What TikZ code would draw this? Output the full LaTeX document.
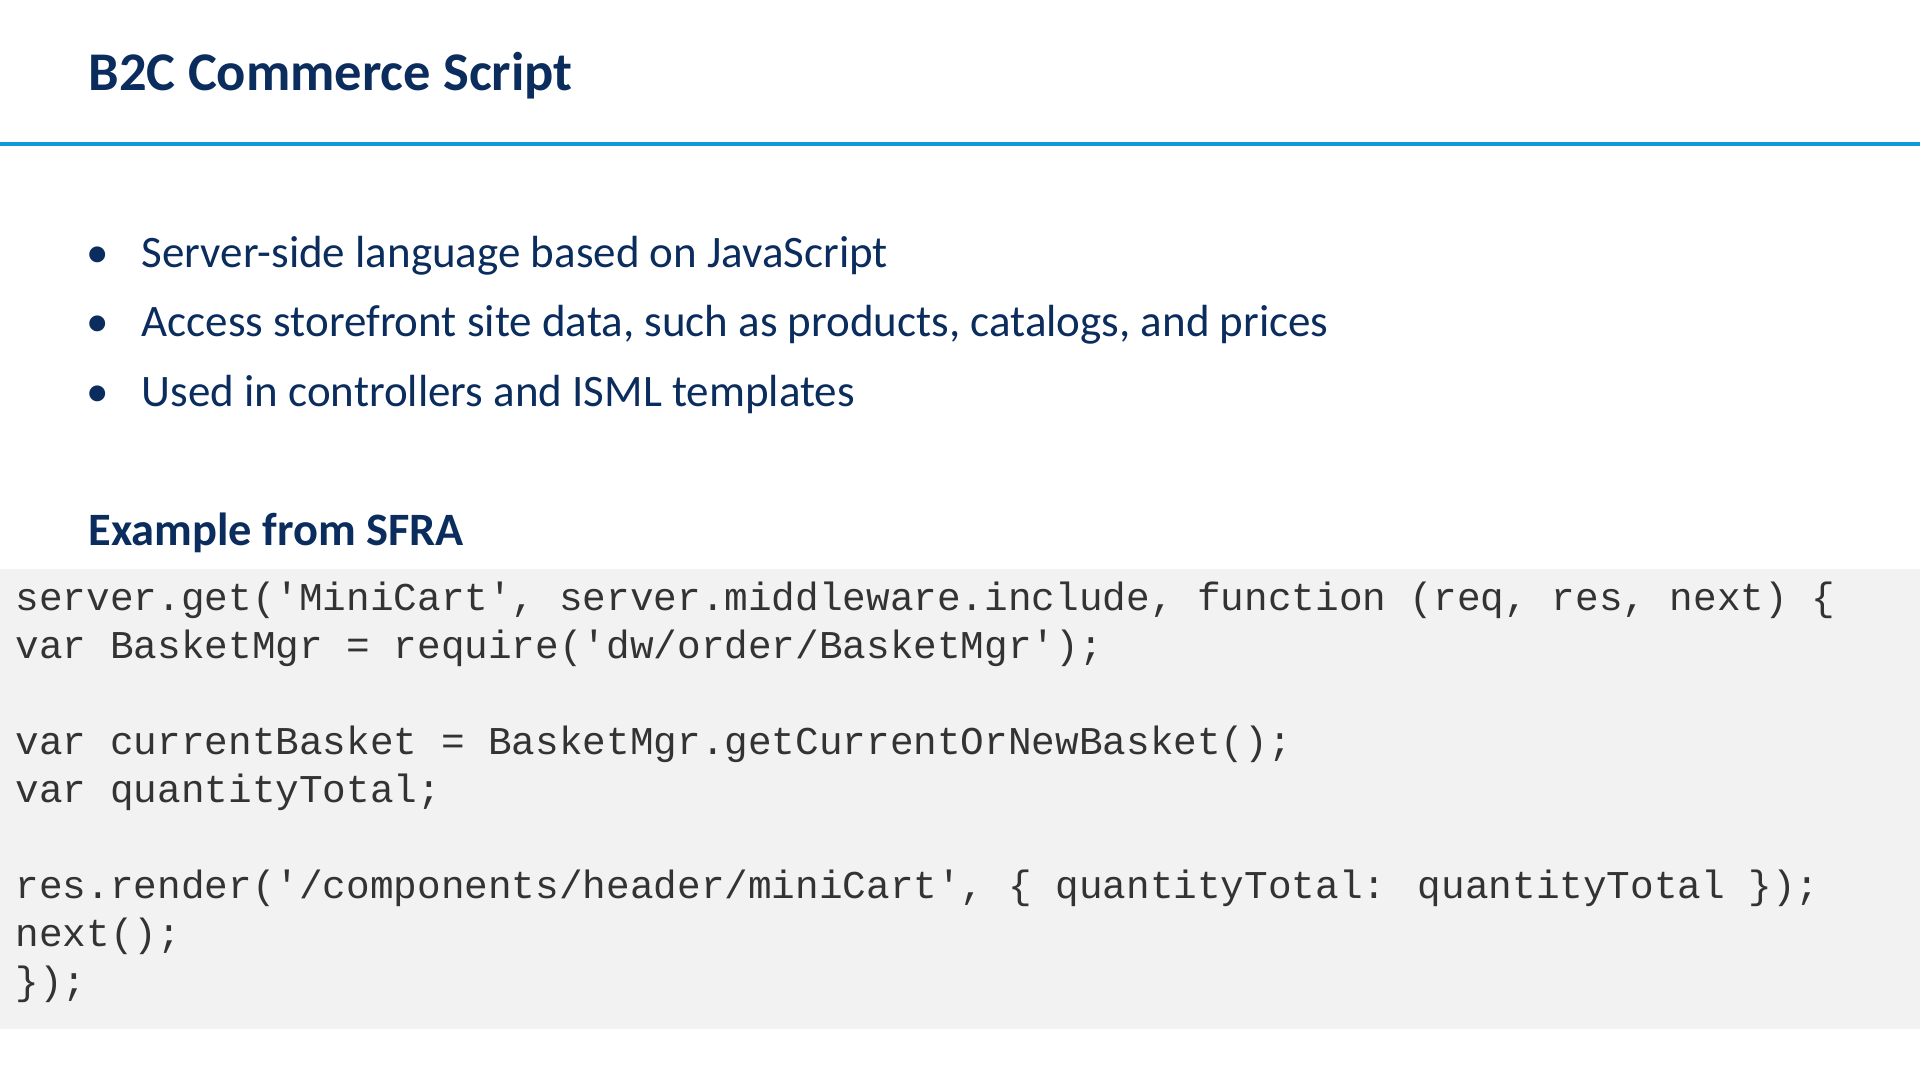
\documentclass[tikz,border=0pt]{standalone}
\usepackage{fontspec}
\setmainfont{Carlito}
\newfontfamily\codefont{Liberation Mono}
\usetikzlibrary{positioning}
\definecolor{navy}{HTML}{0B2D5E}
\definecolor{rule}{HTML}{0A9BD9}
\definecolor{codebg}{HTML}{F2F2F2}
\definecolor{codetxt}{HTML}{333333}
\tikzset{
  title/.style={anchor=base west, inner sep=0pt, text=navy, font=\fontsize{15.5}{18}\selectfont\bfseries},
  bullet/.style={anchor=base west, inner sep=0pt, text=navy, font=\fontsize{12.8}{15}\selectfont},
  code/.style={anchor=base west, inner sep=0pt, text=codetxt, font=\fontsize{11.2}{13}\selectfont\codefont}
}
\begin{document}
\begin{tikzpicture}[x=0.01cm,y=-0.01cm]
\useasboundingbox (0,0) rectangle (1920,1080);
\fill[white] (0,0) rectangle (1920,1080);

% heading and rule
\node[title] (head) at (88,91) {B2C Commerce Script};
\fill[rule] (0,142) rectangle (1920,146);

% bullet list
\foreach \y/\t [count=\i] in {268/Server-side language based on JavaScript,
  337/{Access storefront site data, such as products, catalogs, and prices},
  407/Used in controllers and ISML templates} {
  \node[bullet] (dot\i) at (86,\y) {\textbullet};
  \node[bullet] (item\i) at (141,\y) {\t};
}

\node[title, font=\fontsize{13.2}{15}\selectfont\bfseries] (sub) at (88,546) {Example from SFRA};

% code block
\fill[codebg] (0,569) rectangle (1920,1029);
\node[code] (c1) at (15,611) {server.get('MiniCart', server.middleware.include, function (req, res, next) \{};
\node[code] (c2) at (15,659) {var BasketMgr = require('dw/order/BasketMgr');};
\node[code] (c3) at (15,755) {var currentBasket = BasketMgr.getCurrentOrNewBasket();};
\node[code] (c4) at (15,803) {var quantityTotal;};
\node[code] (c5) at (15,899) {res.render('/components/header/miniCart', \{ quantityTotal: quantityTotal \});};
\node[code] (c6) at (15,947) {next();};
\node[code] (c7) at (15,995) {\});};
\end{tikzpicture}
\end{document}
